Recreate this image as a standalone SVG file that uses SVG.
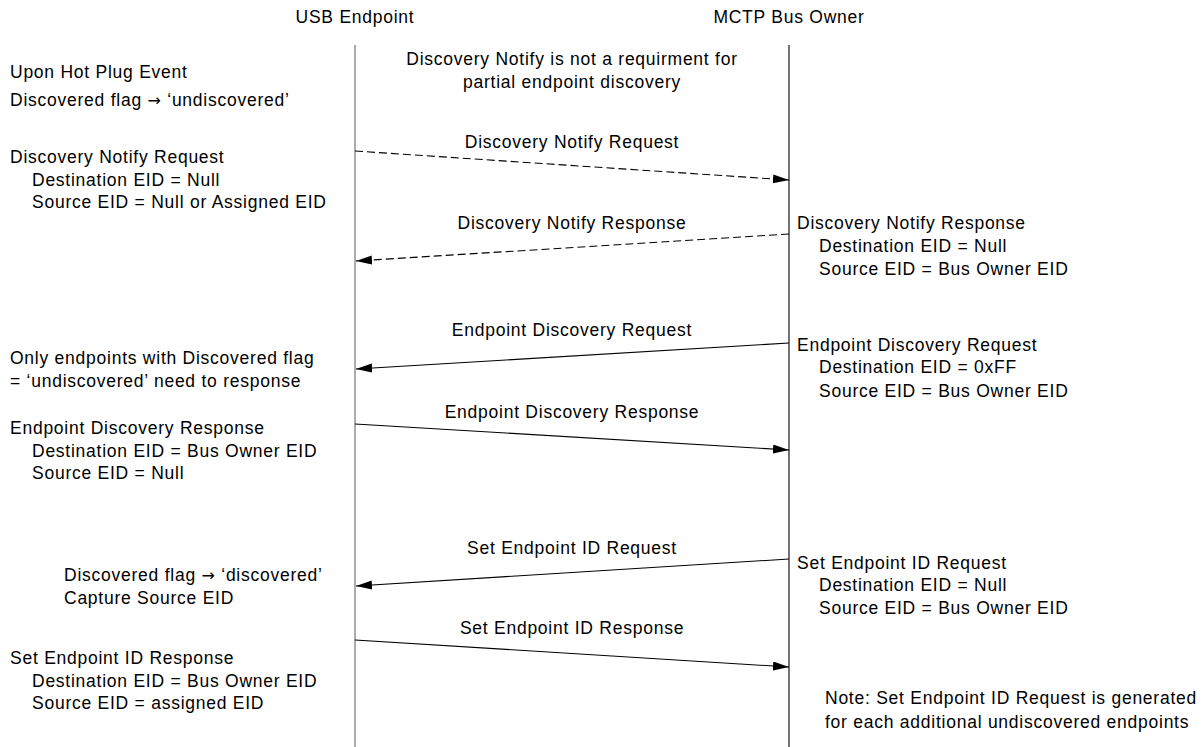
<svg xmlns="http://www.w3.org/2000/svg" width="1202" height="747" viewBox="0 0 1202 747">
<style>
text{font-family:"Liberation Sans",Arial,sans-serif;font-size:17.5px;fill:#000;letter-spacing:0.75px}
.c{text-anchor:middle}
.ar{font-family:"DejaVu Sans",sans-serif;font-size:16px}
.msg{stroke:#000;stroke-width:1.1;fill:none;marker-end:url(#ah)}
.d{stroke-dasharray:8 4}
</style>
<defs>
<marker id="ah" markerUnits="userSpaceOnUse" markerWidth="18" markerHeight="12" refX="16" refY="4.5" orient="auto">
<path d="M0,0 L16,4.5 L0,9 z" fill="#000"/>
</marker>
</defs>
<rect width="1202" height="747" fill="#fff"/>
<g id="usb-endpoint">
<text class="c" x="355" y="23">USB Endpoint</text>
<line x1="355" y1="45" x2="355" y2="747" stroke="#7f7f7f" stroke-width="1.3"/>
</g>
<g id="mctp-bus-owner">
<text class="c" x="789" y="23">MCTP Bus Owner</text>
<line x1="789" y1="45" x2="789" y2="747" stroke="#000" stroke-width="1.1"/>
</g>
<g id="top-note">
<text class="c" x="572" y="65">Discovery Notify is not a requirment for</text>
<text class="c" x="572" y="88">partial endpoint discovery</text>
</g>
<g id="left-notes">
<text x="10" y="78">Upon Hot Plug Event</text>
<text x="10" y="106">Discovered flag <tspan class="ar">→</tspan> ‘undiscovered’</text>
<text x="10" y="163">Discovery Notify Request</text>
<text x="32" y="186">Destination EID = Null</text>
<text x="32" y="208">Source EID = Null or Assigned EID</text>
<text x="10" y="364">Only endpoints with Discovered flag</text>
<text x="10" y="387">= ‘undiscovered’ need to response</text>
<text x="10" y="434">Endpoint Discovery Response</text>
<text x="32" y="457">Destination EID = Bus Owner EID</text>
<text x="32" y="479">Source EID = Null</text>
<text x="64" y="581">Discovered flag <tspan class="ar">→</tspan> ‘discovered’</text>
<text x="64" y="604">Capture Source EID</text>
<text x="10" y="664">Set Endpoint ID Response</text>
<text x="32" y="687">Destination EID = Bus Owner EID</text>
<text x="32" y="709">Source EID = assigned EID</text>
</g>
<g id="right-notes">
<text x="797" y="229">Discovery Notify Response</text>
<text x="819" y="252">Destination EID = Null</text>
<text x="819" y="275">Source EID = Bus Owner EID</text>
<text x="797" y="351">Endpoint Discovery Request</text>
<text x="819" y="373">Destination EID = 0xFF</text>
<text x="819" y="397">Source EID = Bus Owner EID</text>
<text x="797" y="569">Set Endpoint ID Request</text>
<text x="819" y="591">Destination EID = Null</text>
<text x="819" y="614">Source EID = Bus Owner EID</text>
<text x="825" y="704">Note: Set Endpoint ID Request is generated</text>
<text x="825" y="728">for each additional undiscovered endpoints</text>
</g>
<g id="connectors">
<line class="msg d" x1="355" y1="151" x2="789" y2="180"/>
<text class="c" x="572" y="148">Discovery Notify Request</text>
<line class="msg d" x1="789" y1="234" x2="356" y2="261"/>
<text class="c" x="572" y="229">Discovery Notify Response</text>
<line class="msg" x1="789" y1="343" x2="356" y2="369"/>
<text class="c" x="572" y="336">Endpoint Discovery Request</text>
<line class="msg" x1="355" y1="424" x2="789" y2="450"/>
<text class="c" x="572" y="418">Endpoint Discovery Response</text>
<line class="msg" x1="789" y1="559" x2="356" y2="586"/>
<text class="c" x="572" y="554">Set Endpoint ID Request</text>
<line class="msg" x1="355" y1="640" x2="789" y2="667"/>
<text class="c" x="572" y="634">Set Endpoint ID Response</text>
</g>
</svg>
